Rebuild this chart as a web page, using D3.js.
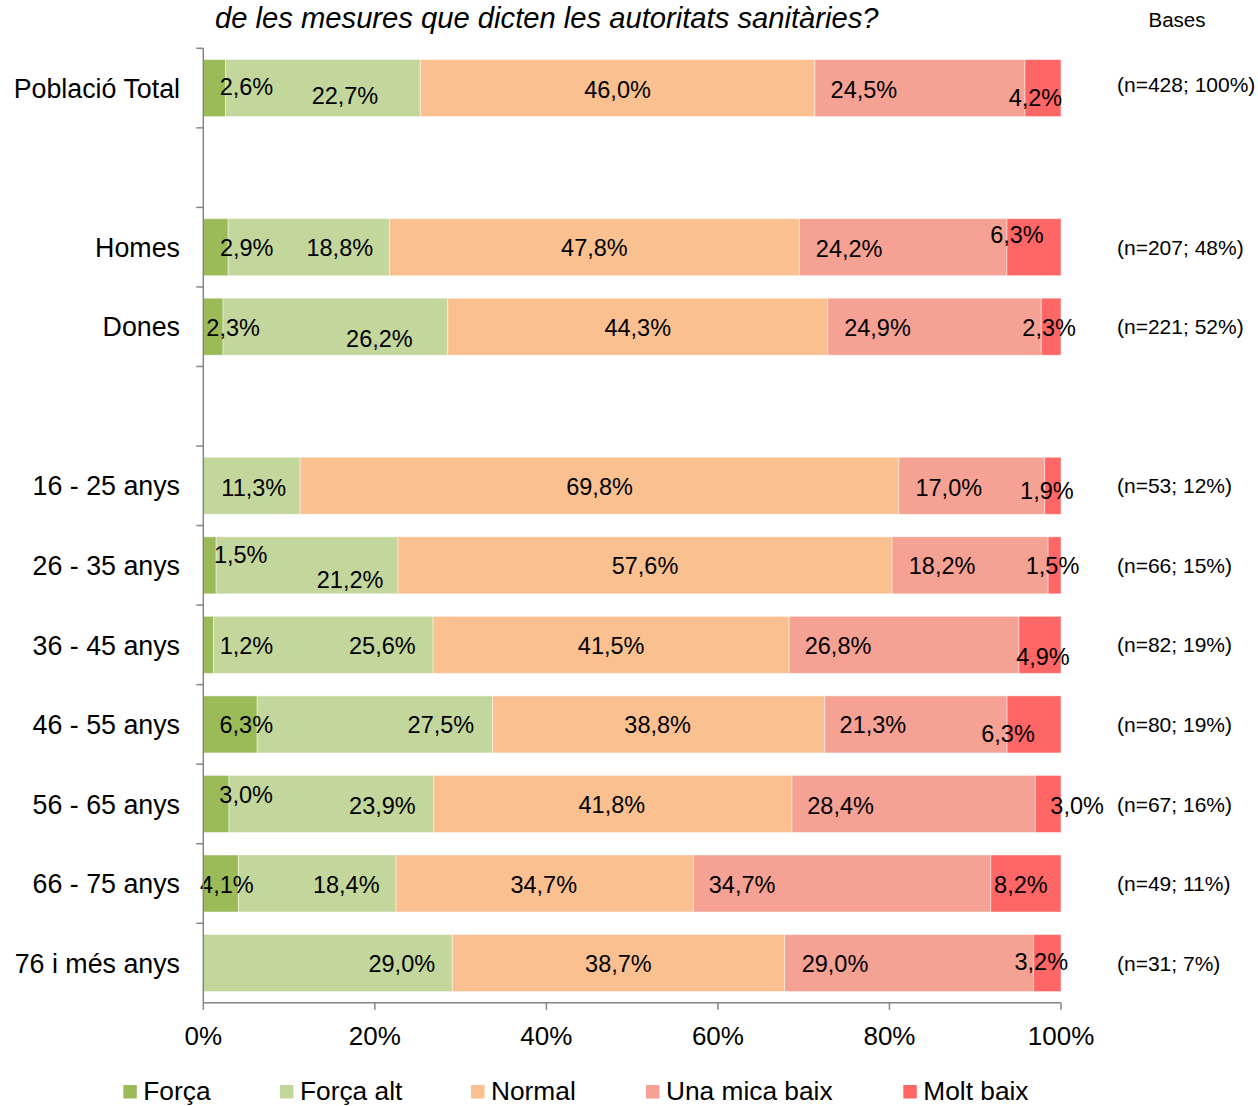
<!DOCTYPE html>
<html>
<head>
<meta charset="utf-8">
<script src="https://cdn.jsdelivr.net/npm/d3@7/dist/d3.min.js"></script>
<style>
  html, body { margin: 0; padding: 0; background: #fff; }
  svg { display: block; font-family: "Liberation Sans", Arial, sans-serif; }
</style>
</head>
<body>
<svg id="chart" width="1258" height="1106"></svg>
<script>
// ---------------- DATA ----------------
const titleText = "de les mesures que dicten les autoritats sanitàries?";
const basesTitle = "Bases";
// row slots (null = empty gap row)
const rowSlots = ["Població Total", null, "Homes", "Dones", null,
  "16 - 25 anys", "26 - 35 anys", "36 - 45 anys", "46 - 55 anys",
  "56 - 65 anys", "66 - 75 anys", "76 i més anys"];
const categories = ["Població Total", "Homes", "Dones",
  "16 - 25 anys", "26 - 35 anys", "36 - 45 anys", "46 - 55 anys",
  "56 - 65 anys", "66 - 75 anys", "76 i més anys"];
const seriesNames = ["Força", "Força alt", "Normal", "Una mica baix", "Molt baix"];
const forca    = [2.6, 2.9, 2.3, 0,    1.5, 1.2, 6.3, 3.0, 4.1, 0];
const forcaAlt = [22.7, 18.8, 26.2, 11.3, 21.2, 25.6, 27.5, 23.9, 18.4, 29.0];
const normal   = [46.0, 47.8, 44.3, 69.8, 57.6, 41.5, 38.8, 41.8, 34.7, 38.7];
const unaMica  = [24.5, 24.2, 24.9, 17.0, 18.2, 26.8, 21.3, 28.4, 34.7, 29.0];
const moltBaix = [4.2, 6.3, 2.3, 1.9, 1.5, 4.9, 6.3, 3.0, 8.2, 3.2];
const bases = ["(n=428; 100%)", "(n=207; 48%)", "(n=221; 52%)", "(n=53; 12%)",
  "(n=66; 15%)", "(n=82; 19%)", "(n=80; 19%)", "(n=67; 16%)", "(n=49; 11%)", "(n=31; 7%)"];
const xTicks = [0, 0.2, 0.4, 0.6, 0.8, 1.0];
const xTickLabels = ["0%", "20%", "40%", "60%", "80%", "100%"];

// ---------------- STYLE ----------------
const colors = ["#9BBB59", "#C3D69B", "#FAC090", "#F5A193", "#FF6666"];
// manual label nudges [dx px, dy px] (as placed in the original)
const labelNudge = [
  [[32,-1.5],[22,7.5],[0,1],[-56,1],[-7.5,9.5]],
  [[31,0],[31,0],[0,0],[-54,1],[-17,-12.5]],
  [[20,1],[44,11.5],[0,1],[-57,1],[-2,1]],
  [[0,0],[2,2],[0,1],[-23,1.5],[-6,4.5]],
  [[31,-11],[43,14],[0,0],[-28,0],[-2,0]],
  [[38,1],[59,1],[0,1],[-66,1],[3,12]],
  [[16,0],[66,0],[-1,0],[-43,0],[-26,9]],
  [[30,-9],[51,2],[-1,1],[-73,2],[29,2]],
  [[6,1],[29,1],[-1,1],[-100,1],[-5,1]],
  [[0,0],[74,1],[0,1],[-74,1],[-6,-1.5]]
];

const svg = d3.select("#chart");
const plot = { left: 203.3, right: 1061, top: 48.3, bottom: 1002.8 };
const axisColor = "#868686";

const x = d3.scaleLinear().domain([0, 1]).range([plot.left, plot.right]);
const y = d3.scaleBand().domain(d3.range(rowSlots.length))
  .range([plot.top, plot.bottom]).paddingInner(0.283).paddingOuter(0.1415);

const seriesVals = [forca, forcaAlt, normal, unaMica, moltBaix];
const table = categories.map((c, i) => {
  const row = { cat: c, slot: rowSlots.indexOf(c) };
  seriesNames.forEach((s, k) => row[s] = seriesVals[k][i]);
  row.total = d3.sum(seriesVals, v => v[i]);
  return row;
});
const stack = d3.stack().keys(seriesNames)
  .value((d, key) => d[key] / d.total);
const stacked = stack(table);

// title
svg.append("text").attr("x", 215).attr("y", 28)
  .attr("font-size", 29.2).attr("font-style", "italic").attr("fill", "#000")
  .text(titleText);
svg.append("text").attr("x", 1177).attr("y", 27)
  .attr("font-size", 20.5).attr("text-anchor", "middle").attr("fill", "#000")
  .text(basesTitle);

// bars
const gBars = svg.append("g");
stacked.forEach((layer, k) => {
  gBars.selectAll(null).data(layer).join("rect")
    .attr("x", d => x(d[0]))
    .attr("y", d => y(d.data.slot))
    .attr("width", d => Math.max(0, x(d[1]) - x(d[0])))
    .attr("height", y.bandwidth())
    .attr("fill", colors[k])
    .attr("stroke", "rgba(255,255,255,0.45)")
    .attr("stroke-width", 1);
});

// value labels
const gLab = svg.append("g");
stacked.forEach((layer, k) => {
  layer.forEach((d, i) => {
    const raw = seriesVals[k][i];
    if (!raw) return;
    const nud = labelNudge[i][k];
    gLab.append("text")
      .attr("x", (x(d[0]) + x(d[1])) / 2 + nud[0])
      .attr("y", y(d.data.slot) + y.bandwidth() / 2 + nud[1])
      .attr("dy", "0.36em")
      .attr("text-anchor", "middle")
      .attr("font-size", 23.5)
      .attr("fill", "#000")
      .text(raw.toFixed(1).replace(".", ",") + "%");
  });
});

// y axis
const gY = svg.append("g");
gY.append("line").attr("x1", plot.left).attr("x2", plot.left)
  .attr("y1", plot.top).attr("y2", plot.bottom)
  .attr("stroke", axisColor).attr("stroke-width", 1.5);
d3.range(rowSlots.length).forEach(i => {
  const yy = plot.top + i * y.step();
  gY.append("line").attr("x1", plot.left - 7).attr("x2", plot.left)
    .attr("y1", yy).attr("y2", yy).attr("stroke", axisColor).attr("stroke-width", 1.5);
});
categories.forEach((c, i) => {
  const slot = rowSlots.indexOf(c);
  gY.append("text").attr("x", 180)
    .attr("y", y(slot) + y.bandwidth() / 2).attr("dy", "0.36em")
    .attr("text-anchor", "end").attr("font-size", 26.8).attr("fill", "#000")
    .text(c);
  svg.append("text").attr("x", 1117)
    .attr("y", y(slot) + y.bandwidth() / 2 - (i === 0 ? 4 : 0)).attr("dy", "0.36em")
    .attr("font-size", 21).attr("fill", "#000")
    .text(bases[i]);
});

// x axis
const gX = svg.append("g");
gX.append("line").attr("x1", plot.left).attr("x2", plot.right)
  .attr("y1", plot.bottom).attr("y2", plot.bottom)
  .attr("stroke", axisColor).attr("stroke-width", 1.5);
xTicks.forEach((t, i) => {
  gX.append("line").attr("x1", x(t)).attr("x2", x(t))
    .attr("y1", plot.bottom).attr("y2", plot.bottom + 7)
    .attr("stroke", axisColor).attr("stroke-width", 1.5);
  gX.append("text").attr("x", x(t)).attr("y", 1045)
    .attr("text-anchor", "middle").attr("font-size", 26).attr("fill", "#000")
    .text(xTickLabels[i]);
});

// legend
const legendX = [123.3, 280, 471, 646, 903.3];
const gL = svg.append("g");
seriesNames.forEach((s, k) => {
  gL.append("rect").attr("x", legendX[k]).attr("y", 1085)
    .attr("width", 13.5).attr("height", 13.5).attr("fill", colors[k]);
  gL.append("text").attr("x", legendX[k] + 20).attr("y", 1100)
    .attr("font-size", 26.3).attr("fill", "#000").text(s);
});
</script>
</body>
</html>
